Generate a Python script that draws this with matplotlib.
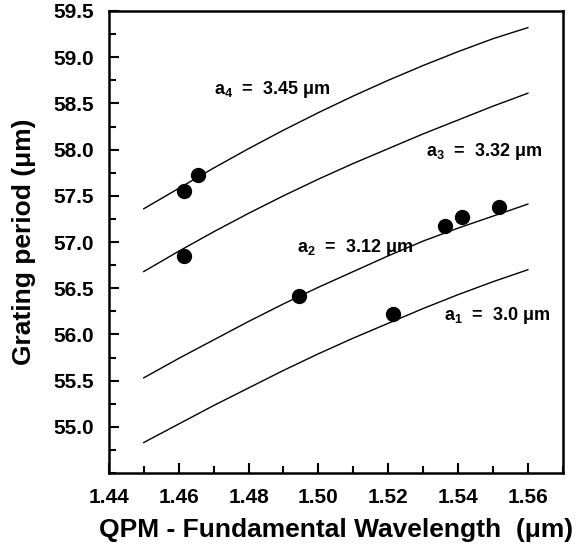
import matplotlib
matplotlib.use("Agg")
import matplotlib.pyplot as plt
from matplotlib.ticker import MultipleLocator

wl_curve = [1.45, 1.46, 1.47, 1.48, 1.49, 1.50, 1.51, 1.52, 1.53, 1.54, 1.55, 1.56]
a1_curve = [54.83, 55.03, 55.23, 55.42, 55.61, 55.79, 55.96, 56.12, 56.28, 56.43, 56.57, 56.70]
a2_curve = [55.53, 55.74, 55.94, 56.14, 56.33, 56.51, 56.68, 56.85, 57.01, 57.15, 57.28, 57.41]
a3_curve = [56.68, 56.90, 57.11, 57.31, 57.50, 57.68, 57.85, 58.01, 58.17, 58.32, 58.47, 58.61]
a4_curve = [57.36, 57.58, 57.80, 58.01, 58.21, 58.40, 58.58, 58.75, 58.91, 59.06, 59.20, 59.32]

# puntos medidos
wl_meas = [1.4616, 1.4655, 1.4616, 1.4945, 1.5214, 1.5362, 1.5411, 1.5518]
period_meas = [57.55, 57.72, 56.85, 56.42, 56.22, 57.17, 57.27, 57.38]

labels = ["a$_{4}$  =  3.45 μm", "a$_{3}$  =  3.32 μm", "a$_{2}$  =  3.12 μm", "a$_{1}$  =  3.0 μm"]
label_pos = [(1.4701, 58.65), (1.5308, 57.98), (1.4939, 56.94), (1.536, 56.20)]

plt.rcParams['font.family'] = ['Liberation Sans', 'DejaVu Sans']
plt.rcParams['mathtext.fontset'] = 'custom'
plt.rcParams['mathtext.rm'] = 'Liberation Sans:bold'
plt.rcParams['mathtext.it'] = 'Liberation Sans:bold'
plt.rcParams['mathtext.bf'] = 'Liberation Sans:bold'

fig = plt.figure(figsize=(5.79, 5.50), dpi=100)
ax = fig.add_axes([0.188, 0.14, 0.784, 0.84])

for curva in [a1_curve, a2_curve, a3_curve, a4_curve]:
    ax.plot(wl_curve, curva, color='black', linewidth=1.0)

ax.plot(wl_meas, period_meas, 'o', color='black', markersize=10)

for txt, (x, y) in zip(labels, label_pos):
    ax.text(x, y, txt, fontsize=13, fontweight='bold', ha='left', va='center')

ax.set_xlim(1.44, 1.57)
ax.set_ylim(54.5, 59.5)
ax.set_xticks([1.44, 1.46, 1.48, 1.50, 1.52, 1.54, 1.56])
ax.set_xticklabels(['1.44', '1.46', '1.48', '1.50', '1.52', '1.54', '1.56'])
ax.xaxis.set_minor_locator(MultipleLocator(0.01))
ax.set_yticks([55.0, 55.5, 56.0, 56.5, 57.0, 57.5, 58.0, 58.5, 59.0, 59.5])
ax.set_yticklabels(['55.0', '55.5', '56.0', '56.5', '57.0', '57.5', '58.0', '58.5', '59.0', '59.5'])
ax.yaxis.set_minor_locator(MultipleLocator(0.25))
ax.tick_params(which='both', direction='in', top=False, right=False, width=1.5)
ax.tick_params(which='major', length=7, labelsize=15, pad=11)
ax.tick_params(which='minor', length=5)
for lbl in ax.get_xticklabels() + ax.get_yticklabels():
    lbl.set_fontweight('bold')
for s in ax.spines.values():
    s.set_linewidth(1.8)

ax.set_xlabel('QPM - Fundamental Wavelength  (μm)', fontsize=19, fontweight='bold', labelpad=8)
ax.set_ylabel('Grating period (μm)', fontsize=19, fontweight='bold', labelpad=12)

plt.savefig('out.png', dpi=100)
